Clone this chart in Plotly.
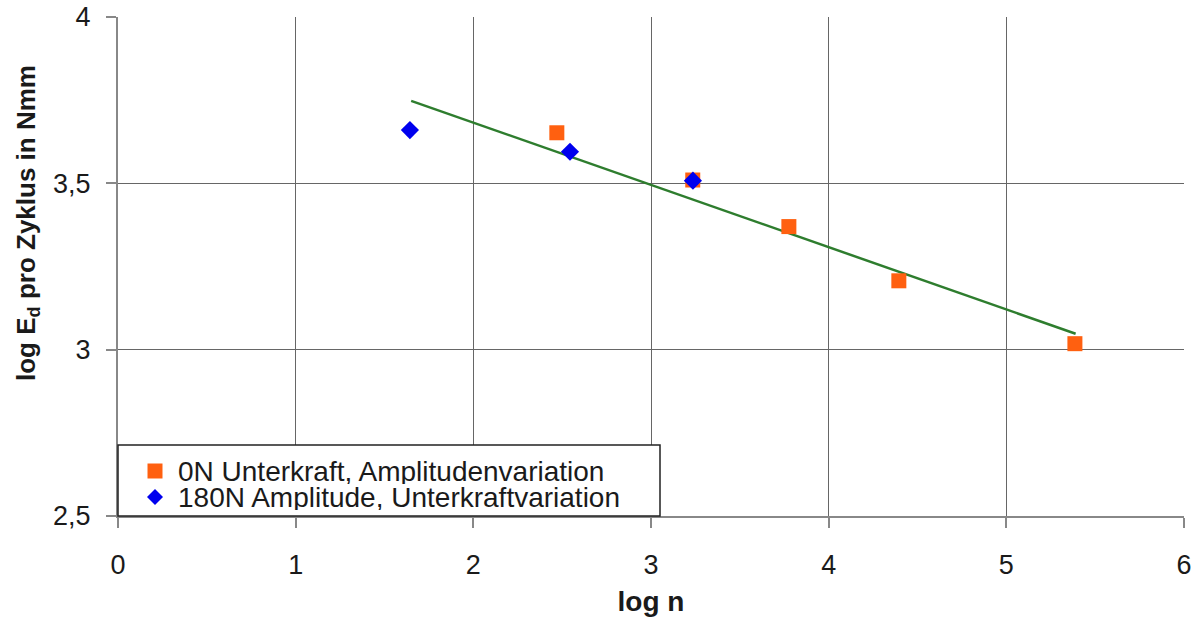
import plotly.graph_objects as go

# Data
orange_x = [2.47, 3.235, 3.776, 4.395, 5.386]
orange_y = [3.652, 3.51, 3.37, 3.207, 3.018]
blue_x = [1.643, 2.544, 3.236]
blue_y = [3.66, 3.595, 3.508]
trend_x = [1.65, 5.39]
trend_y = [3.748, 3.048]
x_ticks = [0, 1, 2, 3, 4, 5, 6]
y_ticks = [2.5, 3, 3.5, 4]
y_tick_labels = ["2,5", "3", "3,5", "4"]
series_names = ["0N Unterkraft, Amplitudenvariation", "180N Amplitude, Unterkraftvariation"]

orange = "#ff6010"
blue = "#0000ee"
font_family = "Liberation Sans, Arial, sans-serif"
text_color = "#1a1a1a"

W, H = 1200, 619
ML, MR, MT, MB = 118, 16, 17, 103
PW, PH = W - ML - MR, H - MT - MB


def xp(px):
    return (px - ML) / PW


def yp(py):
    return (H - MB - py) / PH


fig = go.Figure()
fig.add_trace(go.Scatter(x=trend_x, y=trend_y, mode="lines",
                         line=dict(color="#2e7d2e", width=2.5), showlegend=False,
                         hoverinfo="skip"))
fig.add_trace(go.Scatter(x=orange_x, y=orange_y, mode="markers",
                         name=series_names[0], showlegend=False,
                         marker=dict(symbol="square", size=15, color=orange,
                                     line=dict(width=0))))
fig.add_trace(go.Scatter(x=blue_x, y=blue_y, mode="markers",
                         name=series_names[1], showlegend=False,
                         marker=dict(symbol="diamond", size=14, color=blue,
                                     line=dict(width=0))))

# Legend box (drawn to match the original's compact row spacing)
lx0, lx1, ly0, ly1 = 118, 660, 445, 516
row_y = [471, 497]
mark_x = 155
text_x = 176
shapes = [
    dict(type="rect", xref="paper", yref="paper", x0=xp(lx0), x1=xp(lx1),
         y0=yp(ly1), y1=yp(ly0), line=dict(color="#222222", width=1.5),
         fillcolor="white", layer="above"),
    dict(type="rect", xref="paper", yref="paper",
         x0=xp(mark_x - 7.5), x1=xp(mark_x + 7.5),
         y0=yp(row_y[0] + 7.5), y1=yp(row_y[0] - 7.5),
         line=dict(width=0), fillcolor=orange, layer="above"),
    dict(type="path", xref="paper", yref="paper",
         path=(f"M {xp(mark_x - 8)} {yp(row_y[1])} L {xp(mark_x)} {yp(row_y[1] - 8)} "
               f"L {xp(mark_x + 8)} {yp(row_y[1])} L {xp(mark_x)} {yp(row_y[1] + 8)} Z"),
         line=dict(width=0), fillcolor=blue, layer="above"),
]
annotations = [
    dict(text=series_names[i], xref="paper", yref="paper", x=xp(text_x), y=yp(row_y[i]),
         xanchor="left", yanchor="middle", showarrow=False, height=26, valign="middle",
         font=dict(size=28, color=text_color, family=font_family))
    for i in range(2)
]
annotations.append(
    dict(text="<b>log E<sub>d</sub> pro Zyklus in Nmm</b>", xref="paper", yref="paper",
         x=xp(28), y=yp(223), xanchor="center", yanchor="middle", textangle=-90,
         showarrow=False, font=dict(size=26, color=text_color, family=font_family))
)

fig.update_layout(
    width=W, height=H,
    margin=dict(l=ML, r=MR, t=MT, b=MB),
    paper_bgcolor="white", plot_bgcolor="white",
    font=dict(family=font_family, size=27, color=text_color),
    separators=",.",
    showlegend=False,
    shapes=shapes,
    annotations=annotations,
    xaxis=dict(range=[0, 6], tickvals=x_ticks, showgrid=True,
               gridcolor="#666666", gridwidth=1,
               showline=True, linecolor="#888888", linewidth=2,
               ticks="outside", ticklen=10, tickcolor="#888888", tickwidth=2,
               ticklabelstandoff=14, automargin=False,
               zeroline=False,
               title=dict(text="<b>log n</b>", standoff=12,
                          font=dict(size=28, color=text_color)),
               tickfont=dict(size=27, color=text_color)),
    yaxis=dict(range=[2.5, 4], tickvals=y_ticks, ticktext=y_tick_labels,
               showgrid=True, gridcolor="#666666", gridwidth=1,
               showline=True, linecolor="#888888", linewidth=2,
               ticks="outside", ticklen=10, tickcolor="#888888", tickwidth=2,
               ticklabelstandoff=10, automargin=False,
               zeroline=False,
               tickfont=dict(size=27, color=text_color)),
)

fig.write_html("out.html", config={"displayModeBar": False},
               post_script="document.body.style.margin='0';document.body.style.overflow='hidden';")
